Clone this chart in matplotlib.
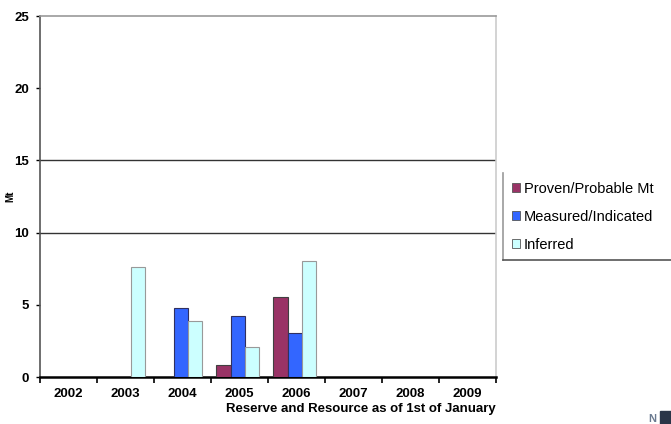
import matplotlib.pyplot as plt
import numpy as np
from matplotlib.lines import Line2D
from matplotlib.patches import Patch

plt.rcParams["font.family"] = ["Liberation Sans", "DejaVu Sans"]

# Data
years = ["2002", "2003", "2004", "2005", "2006", "2007", "2008", "2009"]
proven = [0, 0, 0, 0.83, 5.55, 0, 0, 0]
measured = [0, 0, 4.75, 4.25, 3.05, 0, 0, 0]
inferred = [0, 7.6, 3.85, 2.1, 8.05, 0, 0, 0]
series_names = ["Proven/Probable Mt", "Measured/Indicated", "Inferred"]
colors = ["#993366", "#3366FF", "#CCFFFF"]
edges = ["#404040", "#303060", "#999999"]

fig = plt.figure(figsize=(6.71, 4.24), dpi=100)
ax = fig.add_axes([0.0596, 0.1108, 0.6796, 0.8514])

x = np.arange(len(years))
width = 0.25

for i, values in enumerate([proven, measured, inferred]):
    vals = np.array(values, dtype=float)
    mask = vals > 0
    ax.bar(
        x[mask] + (i - 1) * width - 0.03,
        vals[mask],
        width=width,
        color=colors[i],
        edgecolor=edges[i],
        linewidth=0.8,
        zorder=3
    )

ax.set_xlim(-0.5, len(years) - 0.5)
ax.set_ylim(0, 25)

# Gridlines only at 10 and 15
for level in [10, 15]:
    ax.axhline(level, color="#333333", linewidth=1.0, zorder=1)

ax.set_yticks([0, 5, 10, 15, 20, 25])
ax.set_xticks(x)
ax.set_xticklabels(years)
ax.set_xticks(np.arange(-0.5, len(years)), minor=True)
ax.tick_params(axis="x", which="major", length=0, pad=8)
ax.tick_params(axis="x", which="minor", length=4, width=1.2, direction="out")
ax.tick_params(axis="y", length=3, width=1, direction="out", pad=5)

for label in ax.get_xticklabels() + ax.get_yticklabels():
    label.set_fontsize(9.5)
    label.set_fontweight("bold")

ax.spines["bottom"].set_color("black")
ax.spines["bottom"].set_linewidth(1.8)
ax.spines["left"].set_color("#555555")
ax.spines["left"].set_linewidth(1.2)
ax.spines["top"].set_color("#999999")
ax.spines["top"].set_linewidth(1.2)
ax.spines["right"].set_color("#cccccc")
ax.spines["right"].set_linewidth(1.2)

ax.set_ylabel("Mt", fontsize=7, fontweight="bold")
ax.yaxis.set_label_coords(-0.055, 0.5)
ax.set_xlabel(
    "Reserve and Resource as of 1st of January",
    fontsize=9.5,
    fontweight="bold",
    loc="right",
    labelpad=2
)

# Legend
handles = [
    Patch(facecolor=c, edgecolor="#555555", linewidth=0.6)
    for c in colors
]
fig.legend(
    handles,
    series_names,
    loc="upper left",
    bbox_to_anchor=(0.755, 0.585),
    frameon=False,
    fontsize=10.5,
    handlelength=0.55,
    handleheight=0.55,
    handletextpad=0.25,
    labelspacing=0.95,
    borderaxespad=0
)
fig.add_artist(Line2D([0.750, 0.750], [0.387, 0.592], color="#999999", linewidth=1.2))
fig.add_artist(Line2D([0.750, 1.0], [0.387, 0.387], color="#555555", linewidth=1.2))

# Small logo fragment in the corner
fig.text(0.966, 0.005, "N", fontsize=8, fontweight="bold", color="#6a7a90")
fig.add_artist(plt.Rectangle((0.983, 0.0), 0.02, 0.03, color="#2a3548", transform=fig.transFigure))

fig.savefig("out.png", dpi=100)
